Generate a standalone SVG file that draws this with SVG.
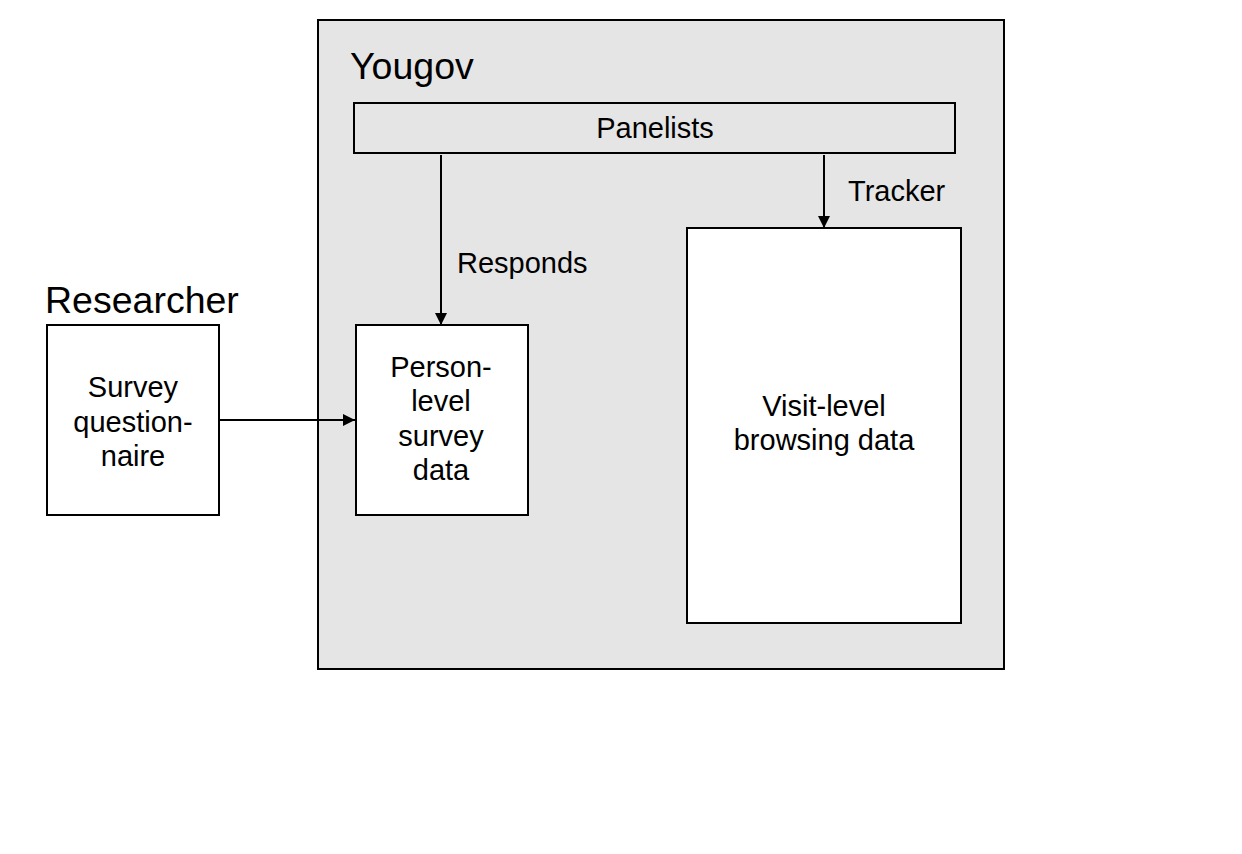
<svg xmlns="http://www.w3.org/2000/svg" width="1242" height="854" viewBox="0 0 1242 854">
<style>
.box{stroke:#000;stroke-width:2}
.t{font-family:"Liberation Sans",Arial,sans-serif;font-size:29px;fill:#000}
.big{font-family:"Liberation Sans",Arial,sans-serif;font-size:37.5px;fill:#000}
.c{text-anchor:middle}
.conn{stroke:#000;stroke-width:2;fill:none}
</style>
<defs>
<marker id="ah" markerWidth="12" markerHeight="12" viewBox="0 0 12 12" refX="12" refY="6" orient="auto" markerUnits="userSpaceOnUse">
<path d="M0,0 L12,6 L0,12 Z" fill="#000"/>
</marker>
</defs>
<rect width="1242" height="854" fill="#fff"/>
<g id="yougov">
<rect class="box" x="318" y="20" width="686" height="649" fill="#e5e5e5"/>
<text class="big" x="350" y="79">Yougov</text>
</g>
<g id="panelists">
<rect class="box" x="354" y="103" width="601" height="50" fill="#e5e5e5"/>
<text class="t c" x="655" y="138">Panelists</text>
</g>
<g id="researcher">
<text class="big" x="45" y="313">Researcher</text>
</g>
<g id="survey">
<rect class="box" x="47" y="325" width="172" height="190" fill="#fff"/>
<text class="t c" x="133" y="397">Survey</text>
<text class="t c" x="133" y="432">question-</text>
<text class="t c" x="133" y="466">naire</text>
</g>
<g id="person">
<rect class="box" x="356" y="325" width="172" height="190" fill="#fff"/>
<text class="t c" x="441" y="377">Person-</text>
<text class="t c" x="441" y="411">level</text>
<text class="t c" x="441" y="446">survey</text>
<text class="t c" x="441" y="480">data</text>
</g>
<g id="visit">
<rect class="box" x="687" y="228" width="274" height="395" fill="#fff"/>
<text class="t c" x="824" y="416">Visit-level</text>
<text class="t c" x="824" y="450">browsing data</text>
</g>
<g id="connectors">
<line class="conn" x1="441" y1="155" x2="441" y2="325" marker-end="url(#ah)"/>
<text class="t" x="457" y="273">Responds</text>
<line class="conn" x1="824" y1="155" x2="824" y2="228" marker-end="url(#ah)"/>
<text class="t" x="848" y="201">Tracker</text>
<line class="conn" x1="219" y1="420" x2="355" y2="420" marker-end="url(#ah)"/>
</g>
</svg>
